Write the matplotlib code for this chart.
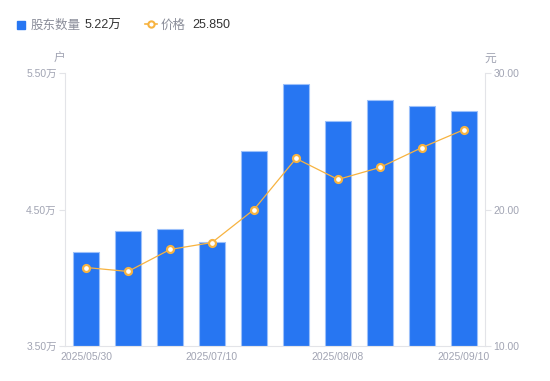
import matplotlib.pyplot as plt
from matplotlib.lines import Line2D

plt.rcParams['font.family'] = ['Liberation Sans', 'Noto Sans CJK SC', 'DejaVu Sans']

dates = ["2025/05/30", "", "", "2025/07/10", "", "", "2025/08/08", "", "", "2025/09/10"]
holders = [4.19, 4.34, 4.36, 4.26, 4.93, 5.42, 5.145, 5.30, 5.26, 5.22]   # 万户
price = [15.75, 15.46, 17.07, 17.58, 20.0, 23.74, 22.2, 23.08, 24.54, 25.85]

left_ticks = [3.5, 4.5, 5.5]
right_ticks = [10, 20, 30]

BLUE = "#2776f2"
ORANGE = "#f7b340"
GRAY = "#a1a4b3"
AXIS = "#e3e4e8"

fig = plt.figure(figsize=(5.5, 3.81), dpi=100)
ax = fig.add_axes([65 / 550, 1 - 346 / 381, 420 / 550, 273 / 381])
ax2 = ax.twinx()

x = range(len(holders))
ax.bar(x, [h - 3.5 for h in holders], bottom=3.5, width=0.6, color=BLUE,
       edgecolor="#9cc0fa", linewidth=0.8, zorder=2)
ax.set_xlim(-0.5, len(holders) - 0.5)
ax.set_ylim(3.5, 5.5)
ax.set_yticks(left_ticks)
ax.set_yticklabels([f"{t:.2f}万" for t in left_ticks])
ax.set_xticks(list(x))
ax.set_xticklabels(dates)

ax2.plot(x, price, color=ORANGE, linewidth=0.9, marker="o", markersize=5,
         markerfacecolor="white", markeredgecolor=ORANGE, markeredgewidth=1.6, zorder=3)
ax2.set_ylim(10, 30)
ax2.set_yticks(right_ticks)
ax2.set_yticklabels([f"{t:.2f}" for t in right_ticks])

for a in (ax, ax2):
    for s in a.spines.values():
        s.set_visible(False)
    a.tick_params(colors=AXIS, labelcolor=GRAY, labelsize=7.5, length=4, width=0.8)
ax.spines["left"].set_visible(True)
ax.spines["left"].set_color(AXIS)
ax.spines["bottom"].set_visible(True)
ax.spines["bottom"].set_color(AXIS)
ax2.spines["right"].set_visible(True)
ax2.spines["right"].set_color(AXIS)
ax.tick_params(axis="x", length=0, pad=4)
ax.tick_params(axis="y", pad=2)
ax2.tick_params(axis="y", pad=2)

fig.text(60 / 550, 1 - 62 / 381, "户", color=GRAY, fontsize=8.5, ha="center", va="baseline")
fig.text(490 / 550, 1 - 62 / 381, "元", color=GRAY, fontsize=8.5, ha="center", va="baseline")

# legend row
base = 1 - 28.5 / 381
fig.patches.append(plt.Rectangle((17 / 550, 1 - 29 / 381), 8 / 550, 8 / 381,
                                 transform=fig.transFigure, color=BLUE, figure=fig))
fig.text(31 / 550, base, "股东数量", color="#8a8d99", fontsize=9, va="baseline")
fig.text(85 / 550, base, "5.22万", color="#333333", fontsize=9, va="baseline")
fig.add_artist(Line2D([145 / 550, 157 / 550], [1 - 24 / 381] * 2, transform=fig.transFigure,
                      color=ORANGE, linewidth=1.2))
fig.add_artist(Line2D([151 / 550], [1 - 24 / 381], transform=fig.transFigure, marker="o",
                      markersize=4.5, markerfacecolor="white", markeredgecolor=ORANGE,
                      markeredgewidth=1.5))
fig.text(161 / 550, base, "价格", color="#8a8d99", fontsize=9, va="baseline")
fig.text(192 / 550, base, "25.850", color="#333333", fontsize=9, va="baseline")

fig.savefig("out.png", dpi=100)
